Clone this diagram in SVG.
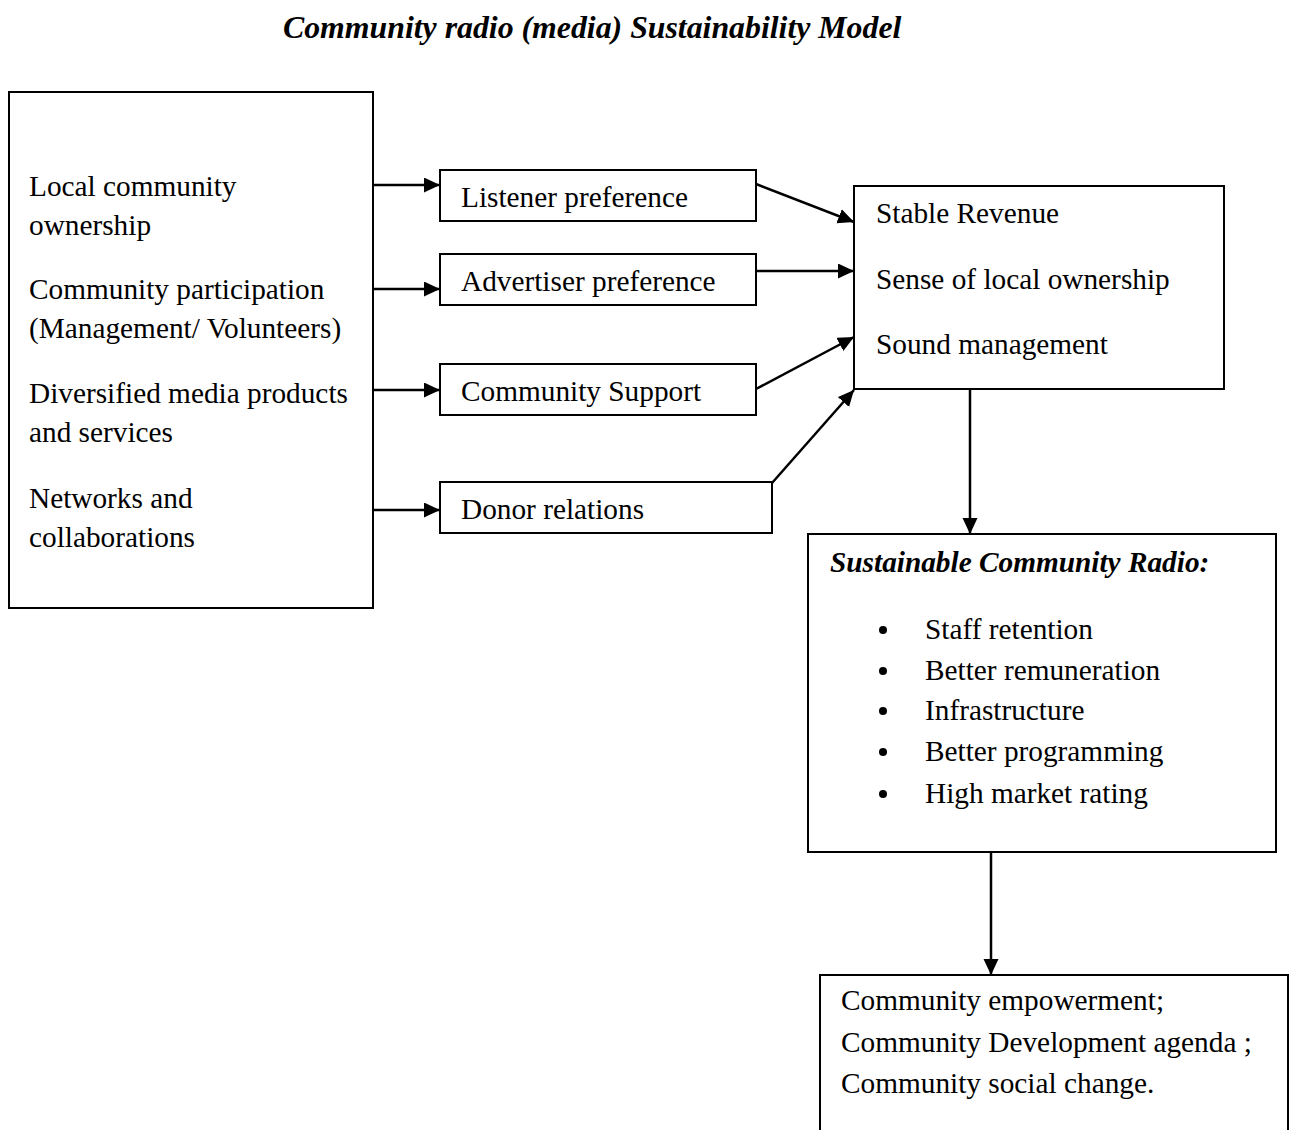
<svg xmlns="http://www.w3.org/2000/svg" width="1295" height="1130" viewBox="0 0 1295 1130">
<style>
text{font-family:"Liberation Serif","Times New Roman",serif;font-size:29.3px;fill:#000}
.bi{font-weight:bold;font-style:italic}
.title{font-size:31.8px}
.box{fill:#fff;stroke:#000;stroke-width:2}
.con{stroke:#000;stroke-width:2.5;fill:none}
</style>
<defs>
<marker id="ah" markerUnits="userSpaceOnUse" markerWidth="18" markerHeight="16" refX="16" refY="7.5" orient="auto">
<path d="M0,0 L16,7.5 L0,15 z" fill="#000"/>
</marker>
</defs>
<rect width="1295" height="1130" fill="#fff"/>
<text class="bi title" x="283" y="38">Community radio (media) Sustainability Model</text>
<g id="connectors">
<line class="con" x1="373" y1="185" x2="440" y2="185" marker-end="url(#ah)"/>
<line class="con" x1="373" y1="289" x2="440" y2="289" marker-end="url(#ah)"/>
<line class="con" x1="373" y1="390" x2="440" y2="390" marker-end="url(#ah)"/>
<line class="con" x1="368" y1="510" x2="440" y2="510" marker-end="url(#ah)"/>
<line class="con" x1="756" y1="184" x2="854" y2="222" marker-end="url(#ah)"/>
<line class="con" x1="756" y1="271" x2="854" y2="271" marker-end="url(#ah)"/>
<line class="con" x1="756" y1="389" x2="854" y2="337" marker-end="url(#ah)"/>
<line class="con" x1="772" y1="483" x2="854" y2="390" marker-end="url(#ah)"/>
<line class="con" x1="970" y1="389" x2="970" y2="534" marker-end="url(#ah)"/>
<line class="con" x1="991" y1="852" x2="991" y2="975" marker-end="url(#ah)"/>
</g>
<g id="factors">
<rect class="box" x="9" y="92" width="364" height="516"/>
<text x="29" y="196">Local community</text>
<text x="29" y="235">ownership</text>
<text x="29" y="299">Community participation</text>
<text x="29" y="338">(Management/ Volunteers)</text>
<text x="29" y="403">Diversified media products</text>
<text x="29" y="442">and services</text>
<text x="29" y="508">Networks and</text>
<text x="29" y="547">collaborations</text>
</g>
<g id="listener">
<rect class="box" x="440" y="170" width="316" height="51"/>
<text x="461" y="207">Listener preference</text>
</g>
<g id="advertiser">
<rect class="box" x="440" y="254" width="316" height="51"/>
<text x="461" y="291">Advertiser preference</text>
</g>
<g id="support">
<rect class="box" x="440" y="364" width="316" height="51"/>
<text x="461" y="401">Community Support</text>
</g>
<g id="donor">
<rect class="box" x="440" y="482" width="332" height="51"/>
<text x="461" y="519">Donor relations</text>
</g>
<g id="outcomes">
<rect class="box" x="854" y="186" width="370" height="203"/>
<text x="876" y="223">Stable Revenue</text>
<text x="876" y="289">Sense of local ownership</text>
<text x="876" y="354">Sound management</text>
</g>
<g id="sustainable">
<rect class="box" x="808" y="534" width="468" height="318"/>
<text class="bi" x="830" y="572">Sustainable Community Radio:</text>
<circle cx="883" cy="630" r="4"/>
<circle cx="883" cy="671" r="4"/>
<circle cx="883" cy="711" r="4"/>
<circle cx="883" cy="752" r="4"/>
<circle cx="883" cy="794" r="4"/>
<text x="925" y="639">Staff retention</text>
<text x="925" y="680">Better remuneration</text>
<text x="925" y="720">Infrastructure</text>
<text x="925" y="761">Better programming</text>
<text x="925" y="803">High market rating</text>
</g>
<g id="impact">
<rect class="box" x="820" y="975" width="468" height="170"/>
<text x="841" y="1010">Community empowerment;</text>
<text x="841" y="1052">Community Development agenda ;</text>
<text x="841" y="1093">Community social change.</text>
</g>
</svg>
